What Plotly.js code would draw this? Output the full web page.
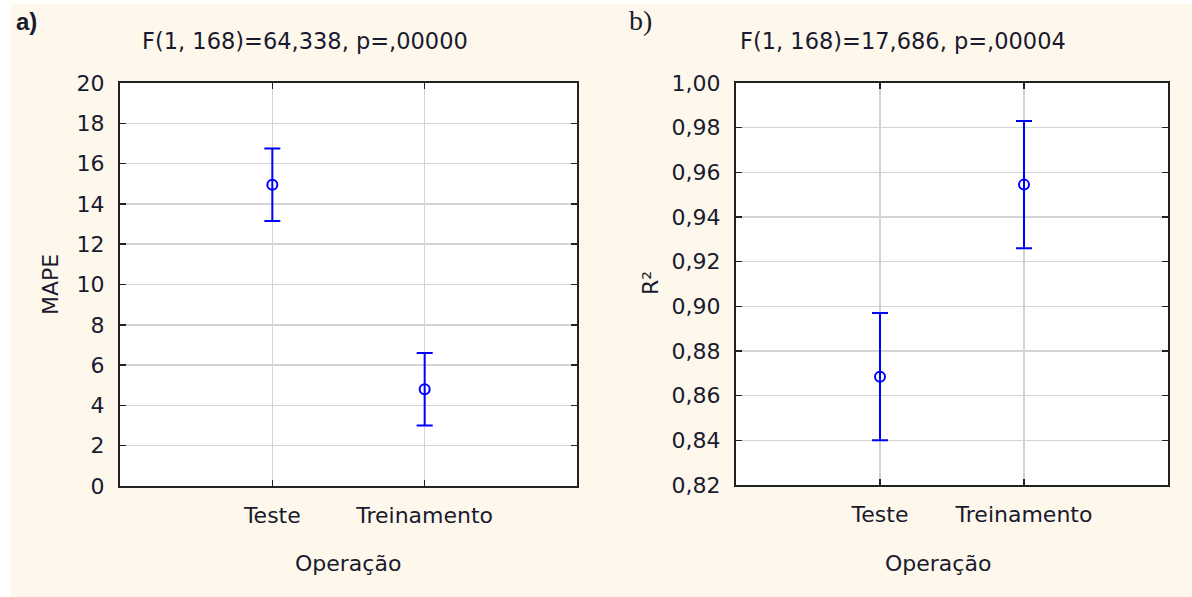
<!DOCTYPE html>
<html>
<head>
<meta charset="utf-8">
<script src="https://cdn.plot.ly/plotly-3.0.1.min.js"></script>
<style>
  html, body { margin: 0; padding: 0; background: #ffffff; }
  #chart { width: 1192px; height: 597px; }
</style>
</head>
<body>
<div id="chart"></div>
<script>
// Group means with 95% confidence half-widths, per operation mode
const categories = ['Teste', 'Treinamento'];
const mapeMean = [14.95, 4.8];
const mapeCI = [1.8, 1.8];
const r2Mean = [0.8685, 0.9545];
const r2CI = [0.0285, 0.0285];
const titleA = 'F(1, 168)=64,338, p=,00000';
const titleB = 'F(1, 168)=17,686, p=,00004';

const W = 1192, H = 597;
const px = v => v / W;          // horizontal pixel -> paper fraction
const py = v => 1 - v / H;      // vertical pixel (from top) -> paper fraction

const FONT = 'DejaVu Sans, Arial, sans-serif';
const TXT = '#1a1a2e';
const BLUE = '#0000ff';

function meanTrace(y, ci, xa, ya) {
  return {
    type: 'scatter', mode: 'markers',
    x: categories, y: y, xaxis: xa, yaxis: ya,
    marker: { symbol: 'circle-open', size: 10, color: BLUE, line: { width: 2, color: BLUE } },
    error_y: { type: 'data', array: ci, visible: true, color: BLUE, thickness: 2, width: 8 },
    hoverinfo: 'skip', showlegend: false
  };
}

function xAxis(domain, anchor) {
  return {
    domain: domain, anchor: anchor, type: 'category', range: [-1, 2],
    showgrid: true, gridcolor: '#d4d4d4', gridwidth: 1.5,
    showline: true, linecolor: '#222', linewidth: 2, mirror: 'ticks',
    ticks: 'inside', ticklen: 6, tickwidth: 1.5, tickcolor: '#222',
    tickfont: { family: FONT, size: 22, color: TXT },
    ticklabelstandoff: 9,
    zeroline: false, automargin: false, fixedrange: true
  };
}

function yAxis(domain, anchor, range, dtick, fmt) {
  return {
    domain: domain, anchor: anchor, range: range, dtick: dtick, tick0: range[0],
    tickformat: fmt,
    showgrid: true, gridcolor: '#d4d4d4', gridwidth: 1.5,
    showline: true, linecolor: '#222', linewidth: 2, mirror: 'ticks',
    ticks: 'inside', ticklen: 6, tickwidth: 1.5, tickcolor: '#222',
    tickfont: { family: FONT, size: 22, color: TXT },
    ticklabelstandoff: 9,
    zeroline: false, automargin: false, fixedrange: true
  };
}

function label(text, x, y, opts) {
  return Object.assign({
    xref: 'paper', yref: 'paper', x: px(x), y: py(y),
    xanchor: 'center', yanchor: 'middle', showarrow: false, text: text,
    font: { family: FONT, size: 22, color: TXT }
  }, opts || {});
}

const data = [
  meanTrace(mapeMean, mapeCI, 'x', 'y'),
  meanTrace(r2Mean, r2CI, 'x2', 'y2')
];

const layout = {
  width: W, height: H,
  margin: { l: 0, r: 0, t: 0, b: 0 },
  paper_bgcolor: '#fef8ec',
  plot_bgcolor: '#ffffff',
  separators: ',.',
  showlegend: false,
  xaxis: xAxis([px(120), px(577)], 'y'),
  yaxis: yAxis([py(486), py(83)], 'x', [0, 20], 2, 'd'),
  xaxis2: xAxis([px(736), px(1168)], 'y2'),
  yaxis2: yAxis([py(485), py(83)], 'x2', [0.82, 1.0], 0.02, '.2f'),
  shapes: [
    // white page margin above and to the left of the panel
    { type: 'rect', xref: 'paper', yref: 'paper', x0: 0, x1: 1, y0: py(4), y1: 1,
      fillcolor: '#ffffff', line: { width: 0 }, layer: 'below' },
    { type: 'rect', xref: 'paper', yref: 'paper', x0: 0, x1: px(11), y0: 0, y1: 1,
      fillcolor: '#ffffff', line: { width: 0 }, layer: 'below' }
  ],
  annotations: [
    label('a)', 26, 21, { font: { family: 'Liberation Sans, Arial, sans-serif', size: 24, color: TXT, weight: 'bold' } }),
    label('b)', 640, 20, { font: { family: 'Liberation Serif, Times New Roman, serif', size: 28, color: TXT } }),
    label(titleA, 305, 41, { font: { family: FONT, size: 22.5, color: TXT } }),
    label(titleB, 903, 41, { font: { family: FONT, size: 22.5, color: TXT } }),
    label('MAPE', 50, 285, { textangle: -90 }),
    label('R²', 650, 283, { textangle: -90 }),
    label('Operação', 348, 563),
    label('Operação', 938, 563)
  ]
};

Plotly.newPlot('chart', data, layout, { displayModeBar: false, staticPlot: true });
</script>
</body>
</html>
